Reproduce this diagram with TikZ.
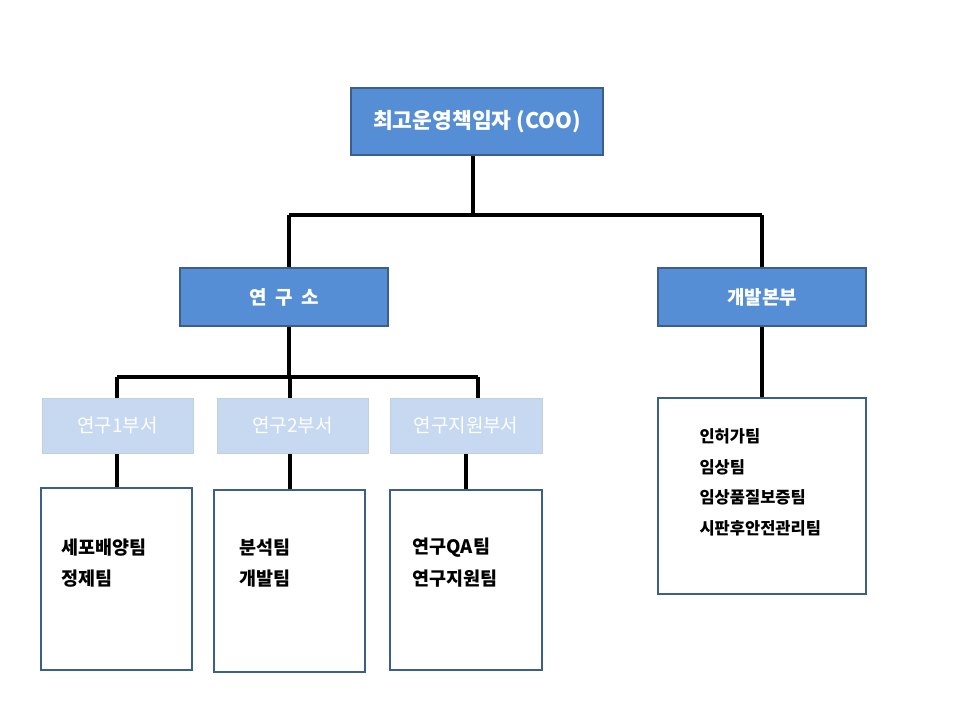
\documentclass[tikz,border=0pt]{standalone}
\usepackage{fontspec}
\setmainfont{Noto Sans CJK KR}
\begin{document}
\begin{tikzpicture}[x=1pt,y=-1pt,
  hdr/.style={fill=cbox, draw=cedge, line width=1.5pt, text=white, font=\bfseries\fontsize{19}{22}\selectfont},
  sub/.style={fill=clight, draw=white!70!cedge, line width=1pt, text=white, font=\fontsize{19}{22}\selectfont},
  wbox/.style={fill=white, draw=cedge, line width=1.5pt},
  conn/.style={line width=4pt, draw=black},
  lbl/.style={anchor=west, font=\bfseries\fontsize{18.5}{22}\selectfont},
  lbs/.style={anchor=west, font=\bfseries\fontsize{16.5}{20}\selectfont}]
\definecolor{cbox}{HTML}{558ED5}
\definecolor{cedge}{HTML}{3B5F8A}
\definecolor{clight}{HTML}{C6D9F1}
\useasboundingbox (0,0) rectangle (960,720);
\fill[white] (0,0) rectangle (960,720);
\coordinate (j1) at (473,215);
\coordinate (jl) at (289,215);
\coordinate (jr) at (762,215);
\coordinate (k1) at (289,377);
\coordinate (kl) at (117,377);
\coordinate (km) at (290,377);
\coordinate (kr) at (478,377);
\node[hdr, minimum width=252, minimum height=67, font=\bfseries\fontsize{21.5}{24}\selectfont] (coo) at (477,121.5) {최고운영책임자 (COO)};
\node[hdr, minimum width=208, minimum height=58] (lab) at (284,297) {연\ \ 구\ \ 소};
\node[hdr, minimum width=208, minimum height=58] (dev) at (762,297) {개발본부};
\node[sub, minimum width=151, minimum height=55] (s1) at (117.5,425.5) {연구1부서};
\node[sub, minimum width=151, minimum height=55] (s2) at (292.5,425.5) {연구2부서};
\node[sub, minimum width=152, minimum height=55] (s3) at (466,425.5) {연구지원부서};
\draw[conn] (coo.south -| j1) -- (j1);
\draw[conn] (jl) -- (jr);
\draw[conn] (jl) -- (lab.north -| jl);
\draw[conn] (jr) -- (dev.north -| jr);
\draw[conn] (lab.south -| k1) -- (k1);
\draw[conn] (kl) -- (kr);
\draw[conn] (kl) -- (s1.north -| kl);
\draw[conn] (km) -- (s2.north -| km);
\draw[conn] (kr) -- (s3.north -| kr);
\node[wbox, minimum width=151, minimum height=182] (w1) at (116.5,579) {};
\node[wbox, minimum width=151, minimum height=182] (w2) at (289.5,581) {};
\node[wbox, minimum width=152, minimum height=180] (w3) at (466,580) {};
\node[wbox, minimum width=208, minimum height=196] (w4) at (762,496) {};
\draw[conn] (s1.south -| kl) -- (w1.north -| kl);
\draw[conn] (s2.south -| km) -- (w2.north -| km);
\draw[conn] (s3.south -| s3) -- (w3.north -| s3);
\draw[conn] (dev.south) -- (w4.north);
\node[lbl] (t1) at (58,548) {세포배양팀};
\node[lbl] (t2) at (58,579) {정제팀};
\node[lbl] (t3) at (236,548) {분석팀};
\node[lbl] (t4) at (236,579) {개발팀};
\node[lbl] (t5) at (409,548) {연구QA팀};
\node[lbl] (t6) at (409,579) {연구지원팀};
\node[lbs] (t7) at (696,436) {인허가팀};
\node[lbs] (t8) at (696,467) {임상팀};
\node[lbs] (t9) at (696,497) {임상품질보증팀};
\node[lbs] (t10) at (696,528) {시판후안전관리팀};
\end{tikzpicture}
\end{document}
